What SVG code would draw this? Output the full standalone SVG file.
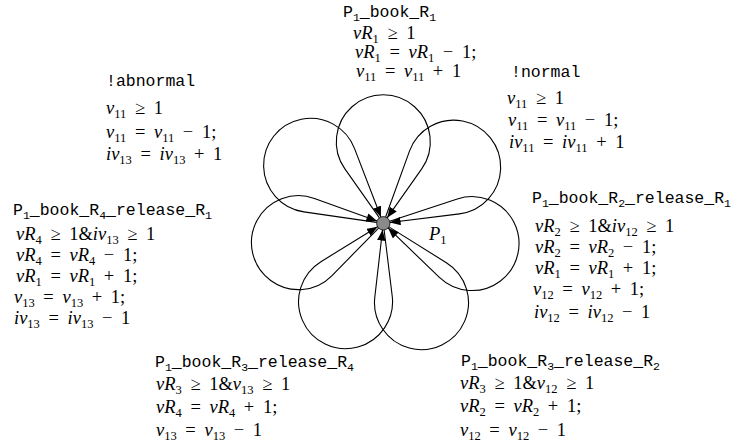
<svg xmlns="http://www.w3.org/2000/svg" width="733" height="448" viewBox="0 0 733 448">
<style>
.tt{font-family:"Liberation Mono","DejaVu Sans Mono",monospace;font-size:16.5px;fill:#000}
.m{font-family:"Liberation Serif","DejaVu Serif",serif;font-size:18.5px;word-spacing:4px;fill:#000}
.i{font-style:italic}
.s{font-size:12.5px;baseline-shift:-3.5px;font-style:normal}
.ts{font-size:11.5px;baseline-shift:-4px}
.edge{fill:none;stroke:#000;stroke-width:1.1;marker-end:url(#arr)}
</style>
<defs>
<marker id="arr" viewBox="0 0 10 8" refX="10" refY="4" markerWidth="11" markerHeight="8.5" markerUnits="userSpaceOnUse" orient="auto">
<path d="M0,0 L10,4 L0,8 z" fill="#000"/>
</marker>
</defs>
<g id="connectors">
<path class="edge" d="M379.44,217.83 L344.90,168.91 A47,47 0 1 1 421.70,168.91 L387.16,217.83"/>
<path class="edge" d="M385.59,217.00 L409.49,151.15 A47,47 0 1 1 459.47,213.83 L389.95,222.47"/>
<path class="edge" d="M389.66,221.20 L457.30,198.91 A47,47 0 1 1 439.38,277.40 L388.12,227.95"/>
<path class="edge" d="M388.98,226.85 L446.38,262.74 A47,47 0 1 1 374.79,297.21 L382.53,229.96"/>
<path class="edge" d="M384.12,229.95 L392.21,295.97 A47,47 0 1 1 320.94,261.66 L377.59,226.81"/>
<path class="edge" d="M378.61,228.08 L332.03,275.56 A47,47 0 1 1 314.44,198.45 L377.00,221.03"/>
<path class="edge" d="M376.67,222.34 L303.87,211.84 A47,47 0 1 1 354.45,148.42 L380.89,217.05"/>
</g>
<g id="node-P1">
<circle cx="383.3" cy="223.3" r="6.7" fill="#8a8a8a" stroke="#000" stroke-width="0.8"/>
<text class="m" x="429" y="240"><tspan class="i">P</tspan><tspan class="s">1</tspan></text>
</g>
<g id="label-book-R1">
<text class="tt" x="343" y="17">P<tspan class="ts">1</tspan>_book_R<tspan class="ts">1</tspan></text>
<text class="m" x="353" y="39"><tspan class="i">vR</tspan><tspan class="s">1</tspan> ≥ 1</text>
<text class="m" x="355" y="58"><tspan class="i">vR</tspan><tspan class="s">1</tspan> = <tspan class="i">vR</tspan><tspan class="s">1</tspan> − 1;</text>
<text class="m" x="356" y="77"><tspan class="i">v</tspan><tspan class="s">11</tspan> = <tspan class="i">v</tspan><tspan class="s">11</tspan> + 1</text>
</g>
<g id="label-normal">
<text class="tt" x="511" y="77">!normal</text>
<text class="m" x="507" y="104"><tspan class="i">v</tspan><tspan class="s">11</tspan> ≥ 1</text>
<text class="m" x="508" y="126"><tspan class="i">v</tspan><tspan class="s">11</tspan> = <tspan class="i">v</tspan><tspan class="s">11</tspan> − 1;</text>
<text class="m" x="509" y="148"><tspan class="i">iv</tspan><tspan class="s">11</tspan> = <tspan class="i">iv</tspan><tspan class="s">11</tspan> + 1</text>
</g>
<g id="label-abnormal">
<text class="tt" x="106" y="86">!abnormal</text>
<text class="m" x="106" y="114"><tspan class="i">v</tspan><tspan class="s">11</tspan> ≥ 1</text>
<text class="m" x="106" y="138"><tspan class="i">v</tspan><tspan class="s">11</tspan> = <tspan class="i">v</tspan><tspan class="s">11</tspan> − 1;</text>
<text class="m" x="106" y="160"><tspan class="i">iv</tspan><tspan class="s">13</tspan> = <tspan class="i">iv</tspan><tspan class="s">13</tspan> + 1</text>
</g>
<g id="label-book-R4-release-R1">
<text class="tt" x="13" y="215">P<tspan class="ts">1</tspan>_book_R<tspan class="ts">4</tspan>_release_R<tspan class="ts">1</tspan></text>
<text class="m" x="16" y="240"><tspan class="i">vR</tspan><tspan class="s">4</tspan> ≥ 1&amp;<tspan class="i">iv</tspan><tspan class="s">13</tspan> ≥ 1</text>
<text class="m" x="16" y="261"><tspan class="i">vR</tspan><tspan class="s">4</tspan> = <tspan class="i">vR</tspan><tspan class="s">4</tspan> − 1;</text>
<text class="m" x="16" y="282"><tspan class="i">vR</tspan><tspan class="s">1</tspan> = <tspan class="i">vR</tspan><tspan class="s">1</tspan> + 1;</text>
<text class="m" x="14" y="303"><tspan class="i">v</tspan><tspan class="s">13</tspan> = <tspan class="i">v</tspan><tspan class="s">13</tspan> + 1;</text>
<text class="m" x="14" y="324"><tspan class="i">iv</tspan><tspan class="s">13</tspan> = <tspan class="i">iv</tspan><tspan class="s">13</tspan> − 1</text>
</g>
<g id="label-book-R2-release-R1">
<text class="tt" x="532" y="203">P<tspan class="ts">1</tspan>_book_R<tspan class="ts">2</tspan>_release_R<tspan class="ts">1</tspan></text>
<text class="m" x="535" y="232"><tspan class="i">vR</tspan><tspan class="s">2</tspan> ≥ 1&amp;<tspan class="i">iv</tspan><tspan class="s">12</tspan> ≥ 1</text>
<text class="m" x="535" y="253"><tspan class="i">vR</tspan><tspan class="s">2</tspan> = <tspan class="i">vR</tspan><tspan class="s">2</tspan> − 1;</text>
<text class="m" x="535" y="274"><tspan class="i">vR</tspan><tspan class="s">1</tspan> = <tspan class="i">vR</tspan><tspan class="s">1</tspan> + 1;</text>
<text class="m" x="533" y="295"><tspan class="i">v</tspan><tspan class="s">12</tspan> = <tspan class="i">v</tspan><tspan class="s">12</tspan> + 1;</text>
<text class="m" x="534" y="318"><tspan class="i">iv</tspan><tspan class="s">12</tspan> = <tspan class="i">iv</tspan><tspan class="s">12</tspan> − 1</text>
</g>
<g id="label-book-R3-release-R4">
<text class="tt" x="155" y="367">P<tspan class="ts">1</tspan>_book_R<tspan class="ts">3</tspan>_release_R<tspan class="ts">4</tspan></text>
<text class="m" x="156" y="390"><tspan class="i">vR</tspan><tspan class="s">3</tspan> ≥ 1&amp;<tspan class="i">v</tspan><tspan class="s">13</tspan> ≥ 1</text>
<text class="m" x="156" y="413"><tspan class="i">vR</tspan><tspan class="s">4</tspan> = <tspan class="i">vR</tspan><tspan class="s">4</tspan> + 1;</text>
<text class="m" x="156" y="436"><tspan class="i">v</tspan><tspan class="s">13</tspan> = <tspan class="i">v</tspan><tspan class="s">13</tspan> − 1</text>
</g>
<g id="label-book-R3-release-R2">
<text class="tt" x="461" y="366">P<tspan class="ts">1</tspan>_book_R<tspan class="ts">3</tspan>_release_R<tspan class="ts">2</tspan></text>
<text class="m" x="460" y="389"><tspan class="i">vR</tspan><tspan class="s">3</tspan> ≥ 1&amp;<tspan class="i">v</tspan><tspan class="s">12</tspan> ≥ 1</text>
<text class="m" x="460" y="412"><tspan class="i">vR</tspan><tspan class="s">2</tspan> = <tspan class="i">vR</tspan><tspan class="s">2</tspan> + 1;</text>
<text class="m" x="460" y="436"><tspan class="i">v</tspan><tspan class="s">12</tspan> = <tspan class="i">v</tspan><tspan class="s">12</tspan> − 1</text>
</g>
</svg>
